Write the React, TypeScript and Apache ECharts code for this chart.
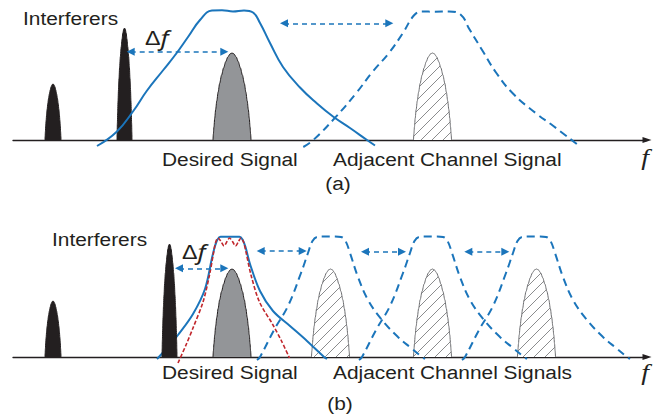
import { useEffect, useRef } from "react";
import * as echarts from "echarts";

// Shared frequency / level ranges of both panels
const FREQ_RANGE = [13, 647];
const LEVEL_RANGE = [-20, 135];

// Normalised outline of one spectral line: [offset / half-width, level / peak]
const LINE_SHAPE: number[][] = [
  [-1, 0], [-0.98, 0.07], [-0.95, 0.15], [-0.91, 0.25], [-0.86, 0.35], [-0.8, 0.45], [-0.73, 0.55],
  [-0.65, 0.65], [-0.55, 0.745], [-0.44, 0.83], [-0.33, 0.9], [-0.22, 0.955], [-0.1, 0.99],
  [0, 1],
  [0.1, 0.99], [0.22, 0.955], [0.33, 0.9], [0.44, 0.83], [0.55, 0.745], [0.65, 0.65], [0.73, 0.55],
  [0.8, 0.45], [0.86, 0.35], [0.91, 0.25], [0.95, 0.15], [0.98, 0.07], [1, 0],
];

// Spectral lines, each [centre, half-width, peak]
const INTERFERERS_A = [[53, 8, 56], [124.5, 7.5, 112]];
const DESIRED_A = [[232, 19, 87]];
const ADJACENT_A = [[432.5, 19, 87]];
const INTERFERERS_B = [[53, 8, 56], [169.5, 7.5, 113]];
const DESIRED_B = [[232, 19, 88]];
const ADJACENT_B = [[330.5, 19, 88], [432.5, 19, 88], [536.5, 19, 88]];

// (a) wide channel filter and the neighbouring channel's filter: [frequency, level]
const WIDE_FILTER = [
  [97, -6], [116.7, 8.3], [133.3, 29], [146.7, 49], [163.3, 70], [176.7, 87], [188, 103],
  [200, 120], [212, 129.5], [222, 129.8], [233, 128.6], [244, 129.6], [253, 127.5],
  [260, 117], [270, 97], [283, 73], [300, 52.5], [317, 36.5], [333, 23.5], [350, 12],
  [367, 0], [375, -5.5],
];
const WIDE_FILTER_NEXT = [
  [303.3, -7], [313.3, 0], [336, 23.3], [356, 46.7], [372.7, 68.3], [389.3, 87.5], [402.7, 106.7],
  [414.3, 125], [422, 128.5], [435, 128.3], [449, 128.5], [461, 125], [469.3, 111], [482.7, 89],
  [496, 67.5], [512.7, 46.7], [536, 26.7], [552.7, 14.5], [579.3, -6],
];

// (b) responses as [offset from centre, level]
const NARROW_FILTER = [
  [-73, -2], [-62, 10], [-52, 22], [-37, 43], [-25, 68], [-18, 99], [-15, 111], [-12.5, 117.5],
  [-9.5, 120.3], [9.5, 120.3], [12.5, 117.5], [15.5, 110], [20, 93], [30, 66], [43, 46], [60, 31],
  [77, 16], [94, 0], [97, -2],
];
const NARROW_CENTRES = [230];
const NARROW_FILTER_NEXT = [
  [-72, -3], [-69, 0], [-55, 27], [-41, 51], [-28, 84], [-21, 104], [-16.5, 116], [-12, 120],
  [-6, 120.5], [6, 120.5], [12, 120], [16.5, 116], [21, 104], [29, 80], [39, 57], [53, 37],
  [69, 20], [82, 9], [93, 0], [96, -2],
];
const NARROW_NEXT_CENTRES = [329, 431, 534];
const SHARP_FILTER = [
  [-53, -6], [-45, 12], [-38, 29], [-28, 55], [-21.5, 82], [-17.5, 104], [-15.5, 114], [-13, 119],
  [-10, 115.5], [-7, 111], [-4, 115.5], [-1.5, 119], [1.5, 115.5], [4.5, 111], [7.5, 115.5], [10, 119],
  [12.5, 115], [15, 105], [20, 82], [28.5, 55], [42, 32], [50, 17], [58.5, -1],
];
const SHARP_CENTRES = [231];

// Spacing arrows, each [from, to, level], tip to tip
const ARROWS_A = [[126.7, 228.3, 88.3], [280, 393.3, 116.7]];
const ARROWS_B = [[175, 228.3, 88.7], [256.7, 306.7, 106], [361, 406, 105.3], [464.3, 509.3, 105.3]];

const INK = "#231f20";
const BLUE = "#1b75bb";
const RED = "#c1272d";
const GREY_FILL = "#939598";
const HATCH_INK = "#6d6e71";
const SANS = "'Liberation Sans', Arial, sans-serif";
const SERIF = "'Liberation Serif', 'Times New Roman', serif";
const TEXT_STRETCH = 1.16;
const HEAD = 8;

function hatchPattern() {
  const s = 11;
  const cv = document.createElement("canvas");
  cv.width = s;
  cv.height = s;
  const ctx = cv.getContext("2d")!;
  ctx.fillStyle = "#ffffff";
  ctx.fillRect(0, 0, s, s);
  ctx.strokeStyle = HATCH_INK;
  ctx.lineWidth = 0.8;
  for (const k of [-1, 0, 1]) {
    ctx.beginPath();
    ctx.moveTo(k * s, s);
    ctx.lineTo(k * s + s, 0);
    ctx.stroke();
  }
  return { image: cv.toDataURL(), repeat: "repeat", imageWidth: s, imageHeight: s };
}

const outline = ([c, w, h]: number[]) => LINE_SHAPE.map(([u, v]) => [c + u * w, v * h]);
const shifted = (shape: number[][], c: number) => shape.map(([d, y]) => [c + d, y]);

function spectral(lines: number[][], panel: number, fill: any, stroke: string, z: number) {
  return lines.map((l) => ({
    type: "line",
    xAxisIndex: panel,
    yAxisIndex: panel,
    data: outline(l),
    smooth: 0.3,
    smoothMonotone: "x",
    symbol: "none",
    silent: true,
    z,
    lineStyle: { color: stroke, width: 1 },
    areaStyle: { color: fill, opacity: 1 },
  }));
}

function response(data: number[][], panel: number, color: string, dash: any, width: number, z: number, smooth: number, arrows?: number[][]) {
  const s: any = {
    type: "line",
    xAxisIndex: panel,
    yAxisIndex: panel,
    data,
    smooth,
    symbol: "none",
    silent: true,
    z,
    lineStyle: { color, width, type: dash, cap: "butt" },
  };
  if (arrows) {
    s.markLine = {
      silent: true,
      symbol: ["triangle", "triangle"],
      symbolSize: HEAD,
      label: { show: false },
      emphasis: { disabled: true },
      lineStyle: { color: BLUE, width: 1.6, type: [5, 4] },
      itemStyle: { color: BLUE },
      data: arrows.map(([a, b, y]) => [
        { coord: [a + HEAD / 2, y], lineStyle: { color: BLUE, width: 1.6, type: [5, 4] } },
        { coord: [b - HEAD / 2, y] },
      ]),
    };
  }
  return s;
}

const text = (t: string, x: number, y: number, extra: any = {}) => ({
  type: "text",
  x,
  y,
  scaleX: TEXT_STRETCH,
  silent: true,
  style: { text: t, fill: INK, fontFamily: SANS, fontSize: 18, align: "left", verticalAlign: "middle", ...extra },
});

const deltaF = (x: number, y: number) => ({
  type: "text",
  x,
  y,
  scaleX: TEXT_STRETCH,
  silent: true,
  style: {
    text: "{d|Δ}{f|f}",
    fill: INK,
    verticalAlign: "middle",
    rich: {
      d: { fontFamily: SANS, fontSize: 20, fill: INK },
      f: { fontFamily: "'Noto Sans', " + SANS, fontStyle: "italic", fontSize: 22, fill: INK },
    },
  },
});

export default function App() {
  const ref = useRef<HTMLDivElement>(null);

  useEffect(() => {
    if (!ref.current) return;
    const chart = echarts.init(ref.current, null, { renderer: "svg" });
    const hatch = hatchPattern();

    const axisX = (i: number) => ({
      type: "value",
      gridIndex: i,
      min: FREQ_RANGE[0],
      max: FREQ_RANGE[1],
      axisLine: {
        show: true,
        onZero: true,
        symbol: ["none", "triangle"],
        symbolSize: [6, 9],
        lineStyle: { color: INK, width: 1.3 },
      },
      axisTick: { show: false },
      axisLabel: { show: false },
      splitLine: { show: false },
    });
    const axisY = (i: number) => ({
      type: "value",
      gridIndex: i,
      min: LEVEL_RANGE[0],
      max: LEVEL_RANGE[1],
      show: false,
      splitLine: { show: false },
    });

    const series: any[] = [
      // panel (a)
      ...spectral(INTERFERERS_A, 0, INK, INK, 2),
      ...spectral(DESIRED_A, 0, GREY_FILL, INK, 2),
      ...spectral(ADJACENT_A, 0, hatch, HATCH_INK, 2),
      response(WIDE_FILTER, 0, BLUE, "solid", 2, 3, 0.45, ARROWS_A),
      response(WIDE_FILTER_NEXT, 0, BLUE, [8, 5], 2, 3, 0.45),
      // panel (b)
      ...spectral(DESIRED_B, 1, GREY_FILL, INK, 2),
      ...spectral(ADJACENT_B, 1, hatch, HATCH_INK, 2),
      ...NARROW_CENTRES.map((c) => response(shifted(NARROW_FILTER, c), 1, BLUE, "solid", 2, 3, 0.35, ARROWS_B)),
      ...NARROW_NEXT_CENTRES.map((c) => response(shifted(NARROW_FILTER_NEXT, c), 1, BLUE, [8, 5], 2, 3, 0.4)),
      ...SHARP_CENTRES.map((c) => response(shifted(SHARP_FILTER, c), 1, RED, [4, 2], 1.6, 4, 0.3)),
      ...spectral(INTERFERERS_B, 1, INK, INK, 5),
    ];

    chart.setOption({
      animation: false,
      backgroundColor: "#ffffff",
      grid: [
        { left: 13, right: 25, top: 5, height: 155, containLabel: false },
        { left: 13, right: 25, top: 222, height: 155, containLabel: false },
      ],
      xAxis: [axisX(0), axisX(1)],
      yAxis: [axisY(0), axisY(1)],
      series,
      graphic: [
        text("Interferers", 23, 19),
        deltaF(145, 38),
        text("Desired Signal", 162, 160),
        text("Adjacent Channel Signal", 333, 160),
        text("(a)", 338, 184, { align: "center" }),
        text("Interferers", 52, 239.5),
        deltaF(182, 252),
        text("Desired Signal", 162, 373),
        text("Adjacent Channel Signals", 333, 373),
        text("(b)", 340, 404, { align: "center" }),
        text("f", 645, 157, { fontFamily: SERIF, fontStyle: "italic", fontSize: 24, align: "center" }),
        text("f", 645, 372, { fontFamily: SERIF, fontStyle: "italic", fontSize: 24, align: "center" }),
      ],
    });

    return () => chart.dispose();
  }, []);

  return (
    <div
      ref={ref}
      style={{ position: "fixed", left: 0, top: 0, width: 672, height: 416, background: "#ffffff" }}
    />
  );
}
